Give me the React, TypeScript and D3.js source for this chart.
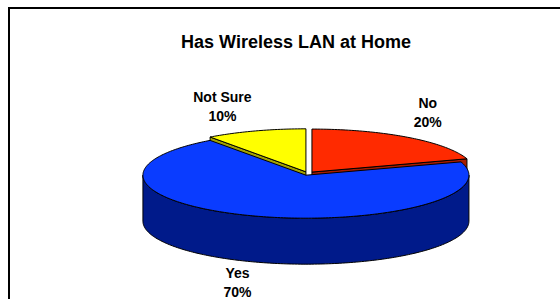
import * as React from 'react';
import * as d3 from 'd3';

// data, in the order the slices run clockwise from 12 o'clock
const categories = ['No', 'Yes', 'Not Sure'];
const shares = [20, 70, 10];
const topColors = ['#ff2a00', '#0a3cff', '#ffff00'];
const sideColors = ['#a81c00', '#001a8a', '#a3a300'];

const W = 560;
const H = 299;
const FONT = '"Liberation Sans", Arial, sans-serif';

type Pt = [number, number];

export default function App() {
  const cx = 308;
  const cy = 173.5;
  const rx = 163;
  const ry = 43;
  const depth = 46;
  const explode = 6.7;
  const k = ry / rx;

  const arcs = d3
    .pie<number>()
    .sort(null)
    .value((d) => d)(shares);

  // radius scale maps the unit circle onto the ellipse's long axis
  const r = d3.scaleLinear().domain([0, 1]).range([0, rx]);

  const slices = arcs.map((a, i) => {
    const mid = (a.startAngle + a.endAngle) / 2;
    const ox = explode * Math.sin(mid);
    const oy = -explode * Math.cos(mid) * k;
    const proj = (ang: number, rad: number, h: number): Pt => [
      cx + ox + r(rad) * Math.sin(ang),
      cy + oy - r(rad) * Math.cos(ang) * k + h,
    ];
    return { a, i, mid, proj };
  });

  const line = d3.line<Pt>().curve(d3.curveLinear);
  const step = Math.PI / 180;
  const range = (a0: number, a1: number) => {
    const out: number[] = [];
    for (let t = a0; t < a1; t += step) out.push(t);
    out.push(a1);
    return out;
  };

  // back to front
  const order = [...slices].sort((p, q) => -Math.cos(p.mid) - -Math.cos(q.mid));

  const measure = (() => {
    const c = typeof document !== 'undefined' ? document.createElement('canvas').getContext('2d') : null;
    return (t: string, font: string) => {
      if (!c) return t.length * 7;
      c.font = font;
      return c.measureText(t).width;
    };
  })();

  const labelFont = `bold 14px ${FONT}`;

  return (
    <svg
      width={W}
      height={H}
      style={{ position: 'fixed', left: 0, top: 0, background: '#fff' }}
      fontFamily={FONT}
    >
      <rect x={0} y={0} width={W} height={H} fill="#fff" />
      <rect x={9} y={8} width={640} height={400} fill="none" stroke="#000" strokeWidth={2} />
      <text x={296} y={48} textAnchor="middle" fontSize={18} fontWeight="bold" fill="#000">
        Has Wireless LAN at Home
      </text>

      {order.map(({ a, i, proj }) => {
        const a0 = a.startAngle;
        const a1 = a.endAngle;
        const faces: React.ReactNode[] = [];

        // radial cut faces, only the ones turned toward the viewer
        const radial = (ang: number, normal: number, key: string) => {
          if (Math.cos(normal) >= -1e-6) return;
          const pts: Pt[] = [proj(ang, 0, 0), proj(ang, 1, 0), proj(ang, 1, depth), proj(ang, 0, depth)];
          faces.push(
            <path key={key} d={line(pts) + 'Z'} fill={sideColors[i]} stroke="#000" strokeWidth={1} strokeLinejoin="round" />
          );
        };
        radial(a0, a0 - Math.PI / 2, 's0');
        radial(a1, a1 + Math.PI / 2, 's1');

        // outer wall on the front half
        const f0 = Math.max(a0, Math.PI / 2);
        const f1 = Math.min(a1, (3 * Math.PI) / 2);
        if (f1 > f0) {
          const ts = range(f0, f1);
          const pts: Pt[] = [
            ...ts.map((t) => proj(t, 1, 0)),
            ...ts.slice().reverse().map((t) => proj(t, 1, depth)),
          ];
          faces.push(
            <path key="wall" d={line(pts) + 'Z'} fill={sideColors[i]} stroke="#000" strokeWidth={1} strokeLinejoin="round" />
          );
        }

        const top: Pt[] = [proj(0, 0, 0), ...range(a0, a1).map((t) => proj(t, 1, 0))];
        faces.push(
          <path key="top" d={line(top) + 'Z'} fill={topColors[i]} stroke="#000" strokeWidth={1} strokeLinejoin="round" />
        );
        return <g key={categories[i]}>{faces}</g>;
      })}

      {slices.map(({ i, mid, proj }) => {
        const front = Math.cos(mid) < 0;
        const p = proj(mid, 1, front ? depth : 0);
        const lines = [categories[i], `${Math.round(shares[i])}%`];
        const bw = Math.max(...lines.map((t) => measure(t, labelFont)));
        const left = Math.sin(mid) < 0 ? p[0] - 4 - bw : p[0] + 6;
        const lh = 19;
        const firstBase = front ? p[1] + 16 : p[1] - 10 - lh;
        return (
          <text key={categories[i]} fontSize={14} fontWeight="bold" textAnchor="middle" fill="#000">
            {lines.map((t, j) => (
              <tspan key={t} x={left + bw / 2} y={firstBase + j * lh}>
                {t}
              </tspan>
            ))}
          </text>
        );
      })}
    </svg>
  );
}
